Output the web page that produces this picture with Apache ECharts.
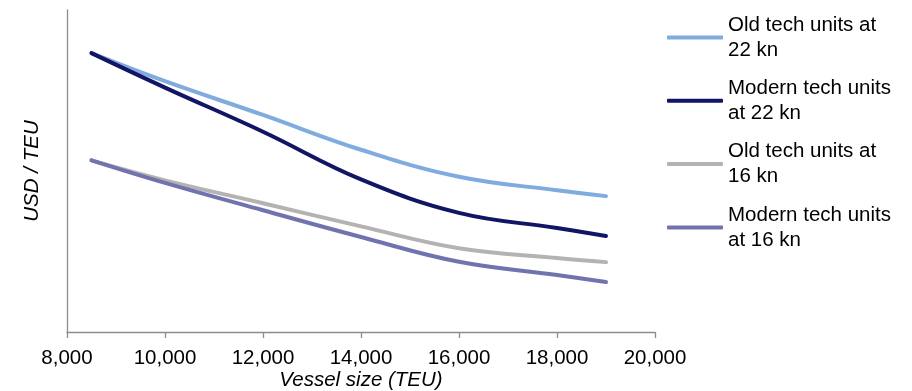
<!DOCTYPE html>
<html>
<head>
<meta charset="utf-8">
<script src="https://cdn.jsdelivr.net/npm/echarts@6/dist/echarts.min.js"></script>
<style>
html,body{margin:0;padding:0;background:#fff;}
#chart{width:912px;height:391px;}
</style>
</head>
<body>
<div id="chart"></div>
<script>
// Vessel sizes (TEU)
const vesselSizes = [8500, 10000, 12000, 14000, 16000, 18000, 19000];
// Relative cost per TEU (index, unlabelled axis)
const oldTech22 = [86.6, 77.9, 67.4, 56.6, 48.2, 44.0, 42.2];
const modernTech22 = [86.6, 75.9, 62.2, 47.4, 37.0, 32.3, 29.8];
const oldTech16 = [53.3, 47.1, 40.0, 32.8, 26.0, 23.0, 21.7];
const modernTech16 = [53.3, 46.3, 37.8, 29.5, 21.8, 17.7, 15.5];
const seriesNames = ['Old tech units at 22 kn', 'Modern tech units at 22 kn', 'Old tech units at 16 kn', 'Modern tech units at 16 kn'];
const legendLabels = {
  'Old tech units at 22 kn': 'Old tech units at\n22 kn',
  'Modern tech units at 22 kn': 'Modern tech units\nat 22 kn',
  'Old tech units at 16 kn': 'Old tech units at\n16 kn',
  'Modern tech units at 16 kn': 'Modern tech units\nat 16 kn'
};
const colors = ['#7FABDE', '#121464', '#B3B3B3', '#7074AE'];
const xTicks = { min: 8000, max: 20000, interval: 2000 };

const FONT = 'Liberation Sans, Arial, Helvetica, sans-serif';
const allValues = [oldTech22, modernTech22, oldTech16, modernTech16];

const chart = echarts.init(document.getElementById('chart'), null, { renderer: 'canvas' });
chart.setOption({
  animation: false,
  color: colors,
  textStyle: { fontFamily: FONT },
  grid: { left: 67, right: 257, top: 10, bottom: 59, containLabel: false, outerBoundsMode: 'none' },
  legend: {
    orient: 'vertical',
    left: 667,
    top: 0,
    padding: 0,
    itemWidth: 56,
    itemHeight: 4,
    itemGap: -11.7,
    icon: 'roundRect',
    formatter: name => legendLabels[name],
    textStyle: {
      fontFamily: FONT,
      fontSize: 20.5,
      color: '#000',
      lineHeight: 25,
      padding: [25, 0, 0, 0]
    },
    data: seriesNames
  },
  xAxis: {
    type: 'value',
    min: xTicks.min,
    max: xTicks.max,
    interval: xTicks.interval,
    name: 'Vessel size (TEU)',
    nameLocation: 'middle',
    nameGap: 38,
    nameMoveOverlap: false,
    nameTextStyle: { fontFamily: FONT, fontSize: 20.5, fontStyle: 'italic', color: '#000' },
    axisLine: { show: true, lineStyle: { color: '#8C8C8C', width: 1.3 } },
    axisTick: { show: true, length: 6, lineStyle: { color: '#8C8C8C', width: 1.3 } },
    axisLabel: {
      fontFamily: FONT, fontSize: 20.5, color: '#000', margin: 16,
      formatter: v => v.toLocaleString('en-US')
    },
    splitLine: { show: false }
  },
  yAxis: {
    type: 'value',
    min: 0,
    max: 100,
    name: 'USD / TEU',
    nameLocation: 'middle',
    nameGap: 25,
    nameMoveOverlap: false,
    nameTextStyle: { fontFamily: FONT, fontSize: 20.5, fontStyle: 'italic', color: '#000' },
    axisLine: { show: true, lineStyle: { color: '#8C8C8C', width: 1.3 } },
    axisTick: { show: false },
    axisLabel: { show: false },
    splitLine: { show: false }
  },
  series: seriesNames.map((name, i) => ({
    name: name,
    type: 'line',
    smooth: 0.4,
    symbol: 'none',
    showSymbol: false,
    lineStyle: { width: 4, color: colors[i], cap: 'round', join: 'round' },
    itemStyle: { color: colors[i] },
    data: vesselSizes.map((x, j) => [x, allValues[i][j]])
  }))
});
</script>
</body>
</html>
